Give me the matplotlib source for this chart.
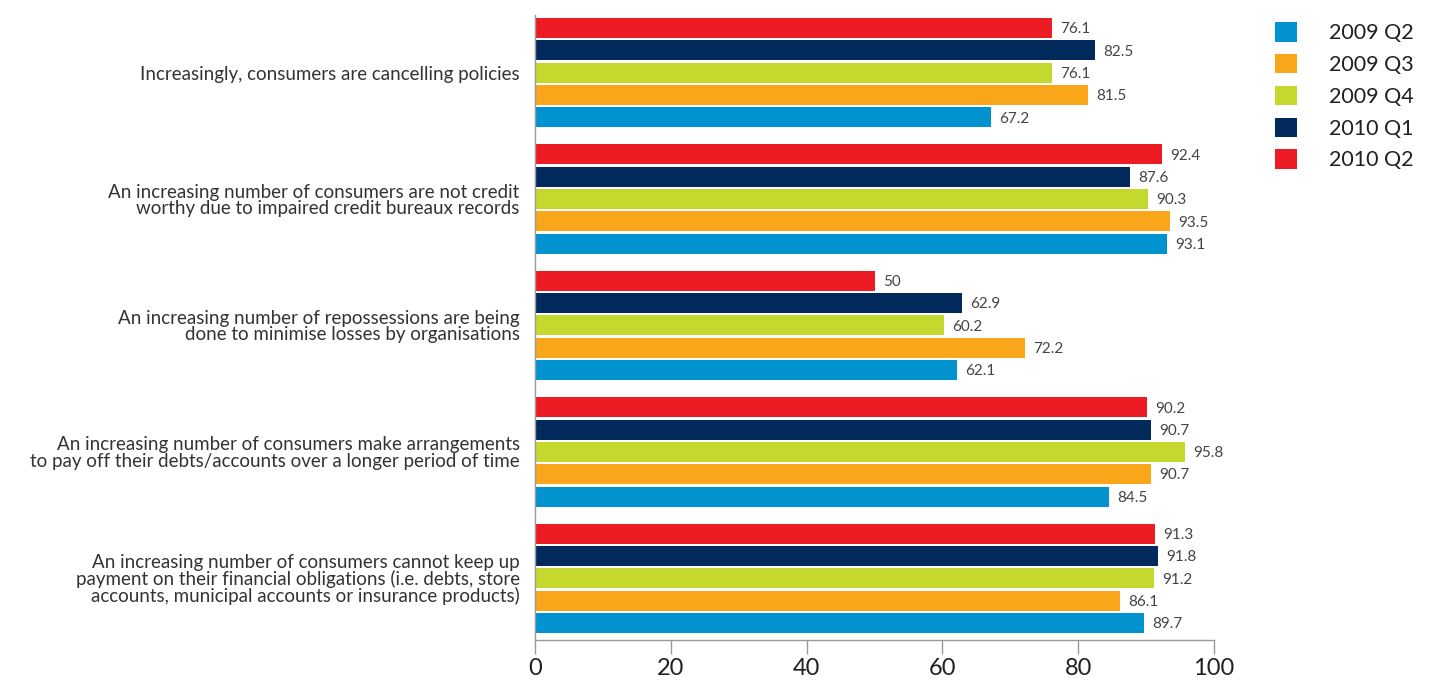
import numpy as np
import matplotlib.pyplot as plt
from matplotlib.patches import Patch

plt.rcParams['font.family'] = ['Lato', 'DejaVu Sans']

categories = [
    'Increasingly, consumers are cancelling policies',
    'An increasing number of consumers are not credit\nworthy due to impaired credit bureaux records',
    'An increasing number of repossessions are being\ndone to minimise losses by organisations',
    'An increasing number of consumers make arrangements\nto pay off their debts/accounts over a longer period of time',
    'An increasing number of consumers cannot keep up\npayment on their financial obligations (i.e. debts, store\naccounts, municipal accounts or insurance products)',
]

periods = ['2009 Q2', '2009 Q3', '2009 Q4', '2010 Q1', '2010 Q2']
colors = ['#0093d0', '#f9a61a', '#c4d82e', '#002a5c', '#ed1c24']

q2_2009 = [67.2, 93.1, 62.1, 84.5, 89.7]
q3_2009 = [81.5, 93.5, 72.2, 90.7, 86.1]
q4_2009 = [76.1, 90.3, 60.2, 95.8, 91.2]
q1_2010 = [82.5, 87.6, 62.9, 90.7, 91.8]
q2_2010 = [76.1, 92.4, 50, 90.2, 91.3]
series = [q2_2009, q3_2009, q4_2009, q1_2010, q2_2010]

fig = plt.figure(figsize=(14.32, 6.82), dpi=100)
ax = fig.add_axes([535 / 1432, 1 - 640 / 682, 679 / 1432, 625 / 682])

step = 0.1766
height = 0.158
y = np.arange(len(categories))

for k, (vals, col, lab) in enumerate(zip(series, colors, periods)):
    pos = y + (2 - k) * step
    ax.barh(pos, vals, height=height, color=col, label=lab)
    for p, v in zip(pos, vals):
        ax.text(v + 1.2, p + 0.01, f'{v:g}', va='center', ha='left',
                fontsize=11, color='#444444')

ax.set_ylim(4.488, -0.456)
ax.set_xlim(0, 100)
ax.set_xticks(np.arange(0, 101, 20))
ax.tick_params(axis='x', length=10, width=1, color='#999999',
               labelsize=17, labelcolor='#231f20', pad=3)
ax.set_yticks(y)
ax.set_yticklabels(categories, fontsize=13.5, color='#333333', linespacing=0.95)
ax.tick_params(axis='y', length=0, pad=11)

for s in ['top', 'right']:
    ax.spines[s].set_visible(False)
for s in ['left', 'bottom']:
    ax.spines[s].set_color('#999999')
    ax.spines[s].set_linewidth(1)

handles = [Patch(facecolor=c, edgecolor='none') for c in colors]
fig.legend(handles, periods, loc='upper left', bbox_to_anchor=(1256 / 1432, 1 - 3 / 682),
           frameon=False, fontsize=15.5, handlelength=1.0, handleheight=1.0,
           handletextpad=1.5, labelspacing=0.5, labelcolor='#231f20')

fig.savefig('out.png', dpi=100)
